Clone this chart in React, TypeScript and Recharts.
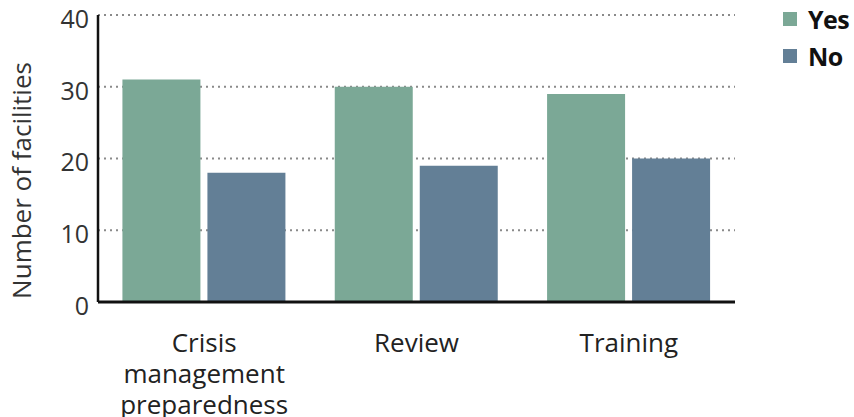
import { BarChart, Bar, XAxis, YAxis, CartesianGrid } from "recharts";

const categories = ["Crisis management preparedness", "Review", "Training"];
const yesValues = [31, 30, 29];
const noValues = [18, 19, 20];
const yTicks = [0, 10, 20, 30, 40];

const series = [
  { key: "yes", name: "Yes", color: "#7ba896" },
  { key: "no", name: "No", color: "#637f96" },
];
const FONT = "'Open Sans', sans-serif";

const data = categories.map((name, i) => ({
  name,
  yes: yesValues[i],
  no: noValues[i],
}));

// category labels wrap one word per line, like the original
function CategoryTick({ x, y, payload }: any) {
  const lines = String(payload.value).split(" ");
  return (
    <g>
      {lines.map((line, i) => (
        <text
          key={i}
          x={x}
          y={y + 42 + i * 31}
          textAnchor="middle"
          fill="#222"
          fontSize={26}
          fontFamily={FONT}
        >
          {line}
        </text>
      ))}
    </g>
  );
}

export default function App() {
  return (
    <div style={{ position: "fixed", left: 0, top: 0, width: 854, height: 417, background: "#fff" }}>
      <BarChart
        width={854}
        height={417}
        data={data}
        margin={{ top: 15, right: 119, bottom: 0, left: 0 }}
        barCategoryGap="11.5%"
        barGap={7}
      >
        <CartesianGrid
          vertical={false}
          stroke="#8a8a8a"
          strokeDasharray="2 4"
          strokeWidth={2}
        />
        <XAxis
          dataKey="name"
          axisLine={{ stroke: "#111", strokeWidth: 3 }}
          tickLine={false}
          interval={0}
          height={115}
          tick={<CategoryTick />}
        />
        <YAxis
          domain={[0, 40]}
          ticks={yTicks}
          width={98}
          axisLine={{ stroke: "#111", strokeWidth: 2.5 }}
          tickLine={false}
          tickSize={0}
          tickMargin={9}
          tick={{ fill: "#333", fontSize: 25, fontFamily: FONT, dy: 4 }}
          label={{
            value: "Number of facilities",
            angle: -90,
            position: "insideLeft",
            offset: 22,
            dy: 22,
            style: { textAnchor: "middle", fill: "#333", fontSize: 26, fontFamily: FONT },
          }}
        />
        {series.map((s) => (
          <Bar key={s.key} dataKey={s.key} name={s.name} fill={s.color} isAnimationActive={false} />
        ))}
      </BarChart>
      <div
        style={{
          position: "absolute",
          left: 783,
          top: 0,
          fontFamily: FONT,
          fontWeight: 700,
          fontSize: 25,
          color: "#111",
        }}
      >
        {series.map((s) => (
          <div key={s.key} style={{ display: "flex", alignItems: "center", height: 37 }}>
            <span style={{ width: 14, height: 14, background: s.color, marginRight: 11 }} />
            <span style={{ letterSpacing: -0.5 }}>{s.name}</span>
          </div>
        ))}
      </div>
    </div>
  );
}
